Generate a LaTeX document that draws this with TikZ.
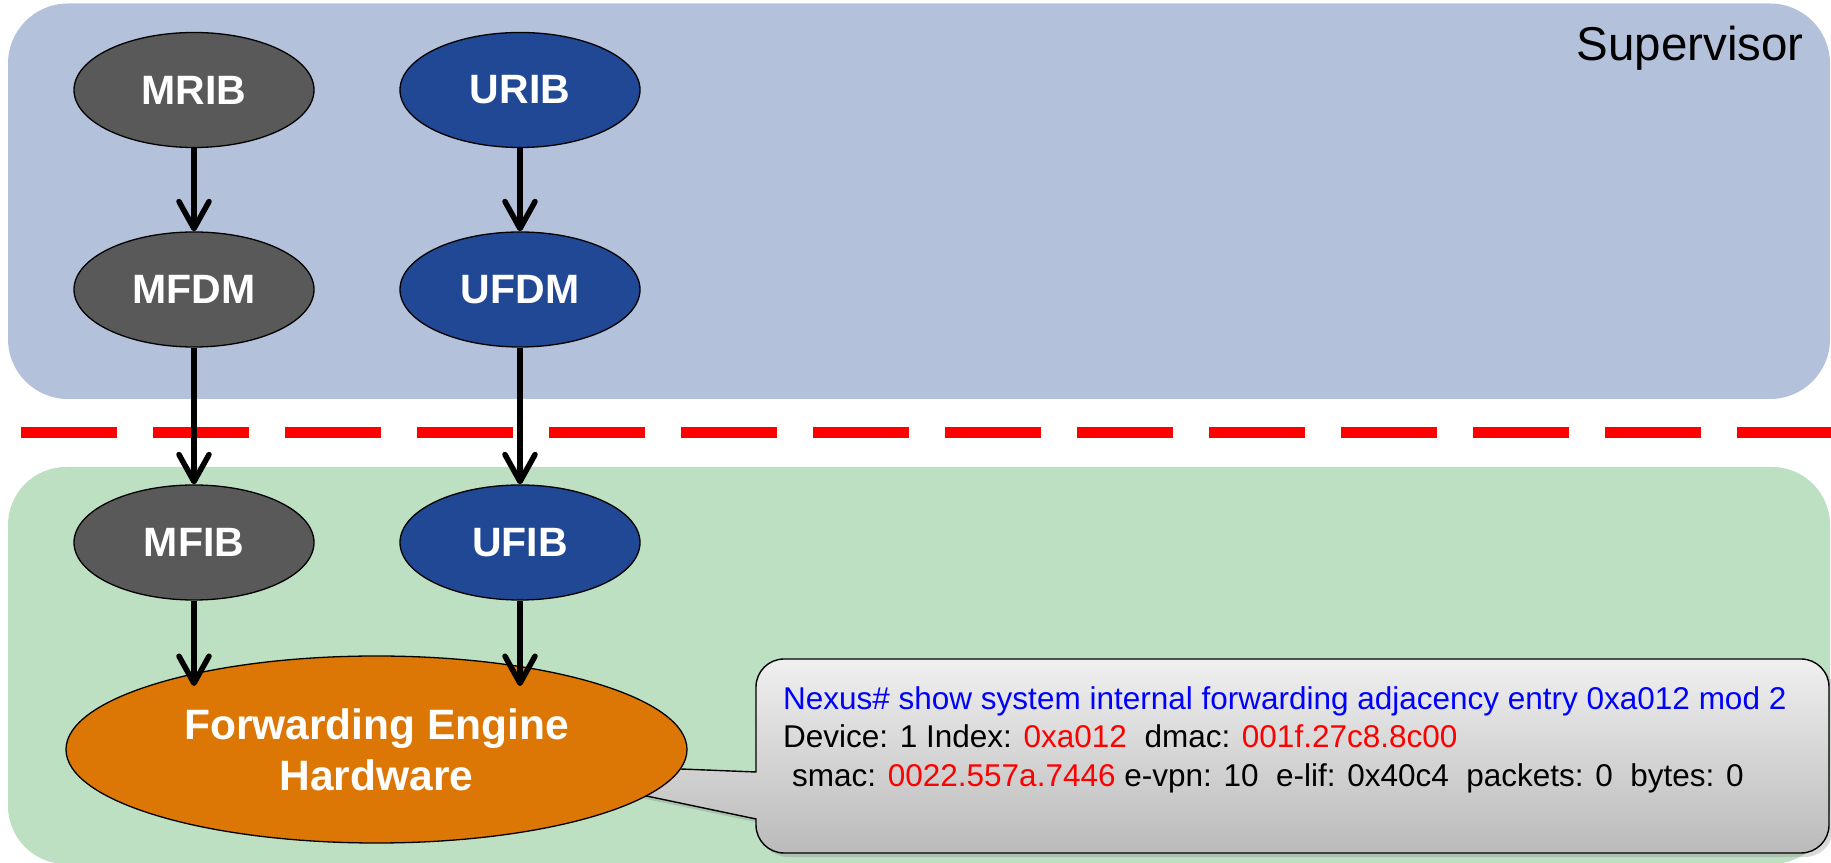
\documentclass[tikz,border=0pt]{standalone}
\usepackage{fontspec}
\setmainfont{Liberation Sans}
\usetikzlibrary{shapes.geometric,arrows.meta,shadows}

\definecolor{supfill}{RGB}{179,193,219}
\definecolor{lcfill}{RGB}{190,224,194}
\definecolor{mgray}{RGB}{89,89,89}
\definecolor{ublue}{RGB}{33,72,148}
\definecolor{feorange}{RGB}{220,118,5}
\definecolor{cmdblue}{RGB}{0,0,255}
\definecolor{valred}{RGB}{255,0,0}

\tikzset{
  proc/.style={ellipse, draw=black, line width=1.3pt, minimum width=240pt,
    minimum height=115pt, inner sep=0pt, text=white,
    font=\bfseries\fontsize{41}{41}\selectfont},
  mnode/.style={proc, fill=mgray},
  unode/.style={proc, fill=ublue},
  flow/.style={line width=5.5pt, -{Straight Barb[round, length=27pt, width=30pt]}},
  callout/.style={draw=black, line width=1.4pt, top color=black!6, bottom color=black!27,
    drop shadow={shadow xshift=4pt, shadow yshift=-4pt, opacity=0.3}},
  cli/.style={anchor=base west, inner sep=0pt, font=\fontsize{31.5}{38}\selectfont},
}

\begin{document}
\begin{tikzpicture}[x=1pt, y=1pt]
\useasboundingbox (0,0) rectangle (1831,862);

% supervisor and line-card regions
\fill[supfill, rounded corners=60pt] (8,463) rectangle (1830,858.5);
\fill[lcfill, rounded corners=58pt] (8,-2) rectangle (1830,395);
\node[anchor=base east, inner sep=0pt, font=\fontsize{47.5}{47.5}\selectfont] (suplabel) at (1804,801) {Supervisor};

% boundary between supervisor and line card
\draw[valred, line width=11.7pt, dash pattern=on 96pt off 36pt] (21,429.5) -- (1831,429.5);

% CLI output callout, pointing into the forwarding engine
\path[callout] (756,90) -- (480,101) -- (756,43) -- (756,37)
  arc[start angle=180, end angle=270, radius=28] -- (1801,9)
  arc[start angle=270, end angle=360, radius=28] -- (1829,175)
  arc[start angle=0, end angle=90, radius=28] -- (784,203)
  arc[start angle=90, end angle=180, radius=28] -- cycle;
\node[cli, text=cmdblue] (cmd) at (783,152) {Nexus\# show system internal forwarding adjacency entry 0xa012 mod 2};
\node[cli] (out1) at (783,114) {Device: 1 Index: \textcolor{valred}{0xa012}\ \ dmac: \textcolor{valred}{001f.27c8.8c00}};
\node[cli] (out2) at (792,75) {smac: \textcolor{valred}{0022.557a.7446} e-vpn: 10\ \ e-lif: 0x40c4\ \ packets: 0\ \ bytes: 0};

% software components
\node[mnode] (mrib) at (194,772) {MRIB};
\node[unode] (urib) at (520,772) {URIB};
\node[mnode] (mfdm) at (194,572.5) {MFDM};
\node[unode] (ufdm) at (520,572.5) {UFDM};
\node[mnode] (mfib) at (194,319.5) {MFIB};
\node[unode] (ufib) at (520,319.5) {UFIB};

% hardware
\node[ellipse, draw=black, line width=1.3pt, fill=feorange, minimum width=621pt,
  minimum height=187pt, inner sep=0pt, text=white, align=center,
  font=\bfseries\fontsize{42.5}{51}\selectfont] (fe) at (376.5,112.5)
  {Forwarding Engine\\Hardware};
\coordinate (hwtop) at (0,176);

% programming flow
\draw[flow] (mrib) -- (mfdm);
\draw[flow] (urib) -- (ufdm);
\draw[flow] (mfdm) -- (mfib);
\draw[flow] (ufdm) -- (ufib);
\draw[flow] (mfib) -- (mfib |- hwtop);
\draw[flow] (ufib) -- (ufib |- hwtop);
\end{tikzpicture}
\end{document}
